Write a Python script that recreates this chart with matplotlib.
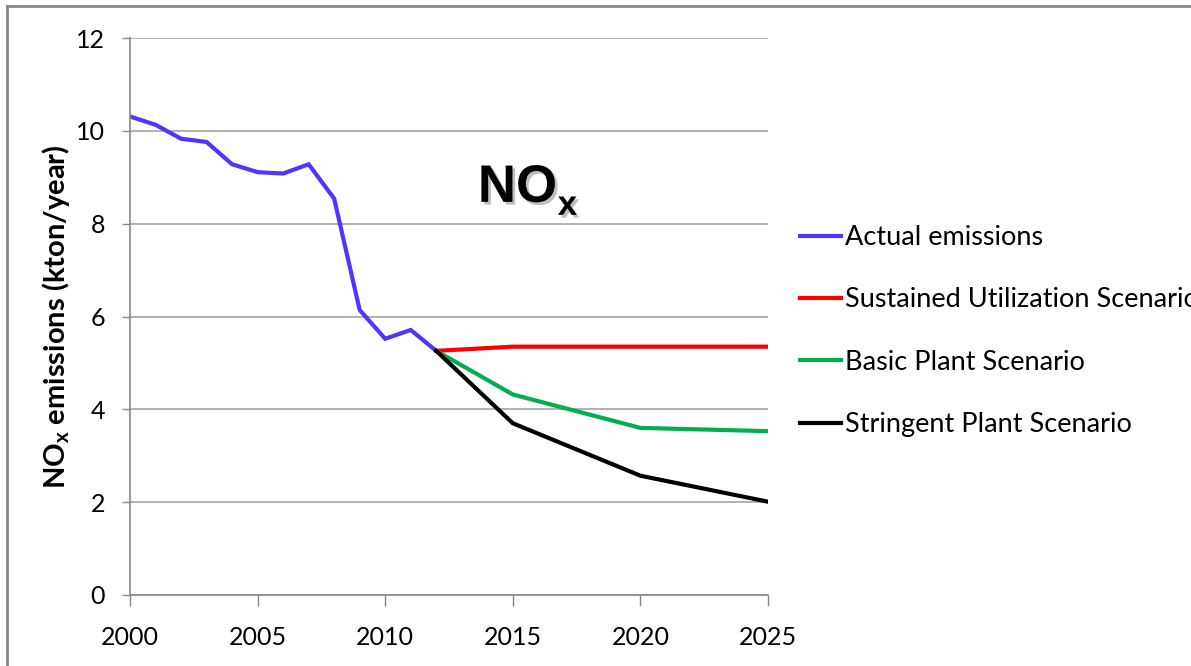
import matplotlib.pyplot as plt
import matplotlib.patheffects as pe
from matplotlib.lines import Line2D

# emissions data, kton/year
years_actual = [2000, 2001, 2002, 2003, 2004, 2005, 2006, 2007, 2008, 2009, 2010, 2011, 2012]
actual = [10.31, 10.13, 9.83, 9.76, 9.28, 9.11, 9.08, 9.28, 8.54, 6.14, 5.52, 5.71, 5.26]

years_scen = [2012, 2015, 2020, 2025]
sustained = [5.26, 5.35, 5.35, 5.35]
basic = [5.26, 4.32, 3.60, 3.53]
stringent = [5.26, 3.70, 2.57, 2.01]

labels = ["Actual emissions", "Sustained Utilization Scenario",
          "Basic Plant Scenario", "Stringent Plant Scenario"]
colors = ["#5034FF", "#FF0000", "#00B050", "#000000"]

plt.rcParams['font.family'] = ['Lato', 'DejaVu Sans']
plt.rcParams['mathtext.fontset'] = 'custom'
plt.rcParams['mathtext.rm'] = 'Lato'

fig = plt.figure(figsize=(11.91, 6.66), dpi=100)
ax = fig.add_axes([130/1191, 1-595/666, 638/1191, 557/666])

ax.plot(years_actual, actual, color=colors[0], lw=3, solid_joinstyle='miter')
ax.plot(years_scen, sustained, color=colors[1], lw=3)
ax.plot(years_scen, basic, color=colors[2], lw=3)
ax.plot(years_scen, stringent, color=colors[3], lw=3)

ax.set_xlim(2000, 2025)
ax.set_ylim(0, 12)
ax.set_xticks([2000, 2005, 2010, 2015, 2020, 2025])
ax.set_yticks(range(0, 13, 2))
ax.grid(axis='y', color='#ABABAB', lw=1.3)
ax.set_axisbelow(True)
for s in ['top', 'right']:
    ax.spines[s].set_visible(False)
for s in ['left', 'bottom']:
    ax.spines[s].set_color('#888888')
    ax.spines[s].set_linewidth(1.2)
ax.tick_params(axis='y', length=6, width=1, color='#888888', pad=12, labelsize=18)
ax.tick_params(axis='x', length=8, width=1, color='#888888', pad=14, labelsize=18)

ax.set_ylabel("NO$_\\mathregular{x}$ emissions (kton/year)", fontsize=21,
              fontweight='bold', labelpad=3)

# big NOx label in the plot
t = ax.text(2015.18, 8.47, "NO", fontsize=38, fontweight='bold',
            family='Liberation Sans', ha='center', va='baseline')
t.set_path_effects([pe.SimplePatchShadow(offset=(2, -2), alpha=0.25), pe.Normal()])
t2 = ax.text(2017.14, 8.19, "x", fontsize=25, fontweight='bold',
             family='Liberation Sans', ha='center', va='baseline')
t2.set_path_effects([pe.SimplePatchShadow(offset=(2, -2), alpha=0.25), pe.Normal()])

handles = [Line2D([], [], color=c, lw=3) for c in colors]
fig.legend(handles, labels, loc='upper left', bbox_to_anchor=(800/1191, 1-225/666),
           frameon=False, fontsize=19.5, handlelength=1.5, handletextpad=0.15,
           labelspacing=1.38, borderpad=0, borderaxespad=0)

# partial frame round the figure
fig.add_artist(Line2D([7/1191, 1], [1-6/666, 1-6/666], color='#888888', lw=2,
                      transform=fig.transFigure))
fig.add_artist(Line2D([7/1191, 7/1191], [0, 1-6/666], color='#888888', lw=2,
                      transform=fig.transFigure))

fig.savefig("out.png", dpi=100)
